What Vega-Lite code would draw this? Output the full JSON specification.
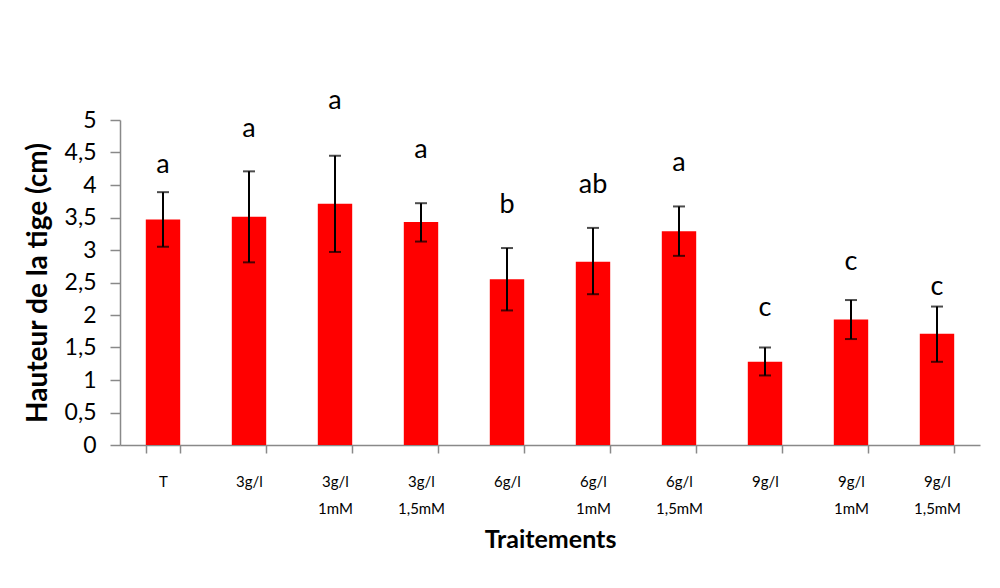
{
  "$schema": "https://vega.github.io/schema/vega-lite/v6.json",
  "width": 860,
  "height": 325,
  "autosize": {"type": "none"},
  "padding": {"left": 120, "top": 120, "right": 20, "bottom": 143},
  "background": "white",
  "data": {
    "values": [
      {"trait": "T", "mean": 3.47, "lo": 3.05, "hi": 3.89, "lettre": "a", "pos": 4.18},
      {"trait": "3g/l", "mean": 3.51, "lo": 2.81, "hi": 4.21, "lettre": "a", "pos": 4.74},
      {"trait": "3g/l|1mM", "mean": 3.71, "lo": 2.97, "hi": 4.45, "lettre": "a", "pos": 5.17},
      {"trait": "3g/l|1,5mM", "mean": 3.43, "lo": 3.13, "hi": 3.72, "lettre": "a", "pos": 4.41},
      {"trait": "6g/l", "mean": 2.55, "lo": 2.07, "hi": 3.03, "lettre": "b", "pos": 3.57},
      {"trait": "6g/l|1mM", "mean": 2.82, "lo": 2.32, "hi": 3.34, "lettre": "ab", "pos": 3.88},
      {"trait": "6g/l|1,5mM", "mean": 3.29, "lo": 2.91, "hi": 3.67, "lettre": "a", "pos": 4.21},
      {"trait": "9g/l", "mean": 1.28, "lo": 1.07, "hi": 1.5, "lettre": "c", "pos": 1.99},
      {"trait": "9g/l|1mM", "mean": 1.93, "lo": 1.63, "hi": 2.23, "lettre": "c", "pos": 2.7},
      {"trait": "9g/l|1,5mM", "mean": 1.71, "lo": 1.28, "hi": 2.13, "lettre": "c", "pos": 2.31}
    ]
  },
  "encoding": {
    "x": {
      "field": "trait",
      "type": "nominal",
      "sort": null,
      "scale": {"paddingInner": 0.6, "paddingOuter": 0.3},
      "axis": {
        "title": "Traitements",
        "titleFont": "Lato",
        "titleFontSize": 25,
        "titleFontWeight": "bold",
        "titleColor": "#000000",
        "titlePadding": 11,
        "labelAngle": 0,
        "labelExpr": "split(datum.label, '|')",
        "labelFont": "Lato",
        "labelFontSize": 15,
        "labelColor": "#000000",
        "labelLineHeight": 27,
        "labelPadding": 21,
        "labelBaseline": "top",
        "tickBand": "extent",
        "tickSize": 8,
        "tickColor": "#898989",
        "tickWidth": 1.5,
        "domainColor": "#898989",
        "domainWidth": 1.5
      }
    }
  },
  "layer": [
    {
      "mark": {"type": "bar", "color": "#ff0000"},
      "encoding": {
        "y": {
          "field": "mean",
          "type": "quantitative",
          "scale": {"domain": [0, 5], "nice": false},
          "axis": {
            "title": "Hauteur de la tige (cm)",
            "values": [0, 0.5, 1, 1.5, 2, 2.5, 3, 3.5, 4, 4.5, 5],
            "labelExpr": "replace(toString(datum.value), '.', ',')",
            "labelPadding": 14,
            "labelFontSize": 23,
            "tickSize": 10,
            "titlePadding": 12
          }
        }
      }
    },
    {
      "mark": {"type": "rule", "color": "#000000", "strokeWidth": 2},
      "encoding": {
        "y": {"field": "lo", "type": "quantitative", "axis": {
            "title": "Hauteur de la tige (cm)",
            "values": [0, 0.5, 1, 1.5, 2, 2.5, 3, 3.5, 4, 4.5, 5],
            "labelExpr": "replace(toString(datum.value), '.', ',')",
            "labelPadding": 14,
            "labelFontSize": 23,
            "tickSize": 10,
            "titlePadding": 12
          }},
        "y2": {"field": "hi"}
      }
    },
    {
      "mark": {"type": "tick", "color": "#000000", "thickness": 2, "size": 12},
      "encoding": {"y": {"field": "lo", "type": "quantitative", "axis": {
            "title": "Hauteur de la tige (cm)",
            "values": [0, 0.5, 1, 1.5, 2, 2.5, 3, 3.5, 4, 4.5, 5],
            "labelExpr": "replace(toString(datum.value), '.', ',')",
            "labelPadding": 14,
            "labelFontSize": 23,
            "tickSize": 10,
            "titlePadding": 12
          }}}
    },
    {
      "mark": {"type": "tick", "color": "#000000", "thickness": 2, "size": 12},
      "encoding": {"y": {"field": "hi", "type": "quantitative", "axis": {
            "title": "Hauteur de la tige (cm)",
            "values": [0, 0.5, 1, 1.5, 2, 2.5, 3, 3.5, 4, 4.5, 5],
            "labelExpr": "replace(toString(datum.value), '.', ',')",
            "labelPadding": 14,
            "labelFontSize": 23,
            "tickSize": 10,
            "titlePadding": 12
          }}}
    },
    {
      "mark": {"type": "text", "font": "Lato", "fontSize": 27, "color": "#000000", "baseline": "alphabetic", "align": "center"},
      "encoding": {
        "y": {"field": "pos", "type": "quantitative", "axis": {
            "title": "Hauteur de la tige (cm)",
            "values": [0, 0.5, 1, 1.5, 2, 2.5, 3, 3.5, 4, 4.5, 5],
            "labelExpr": "replace(toString(datum.value), '.', ',')",
            "labelPadding": 14,
            "labelFontSize": 23,
            "tickSize": 10,
            "titlePadding": 12
          }},
        "text": {"field": "lettre"}
      }
    }
  ],
  "config": {
    "view": {"stroke": null},
    "axisY": {
      "titleFont": "Lato",
      "titleFontSize": 28,
      "titleFontWeight": "bold",
      "titleColor": "#000000",
      "labelOverlap": false,
      "labelFont": "Lato",
      "labelColor": "#000000",
      "grid": false,
      "tickColor": "#898989",
      "tickWidth": 1.5,
      "domainColor": "#898989",
      "domainWidth": 1.5
    }
  }
}
